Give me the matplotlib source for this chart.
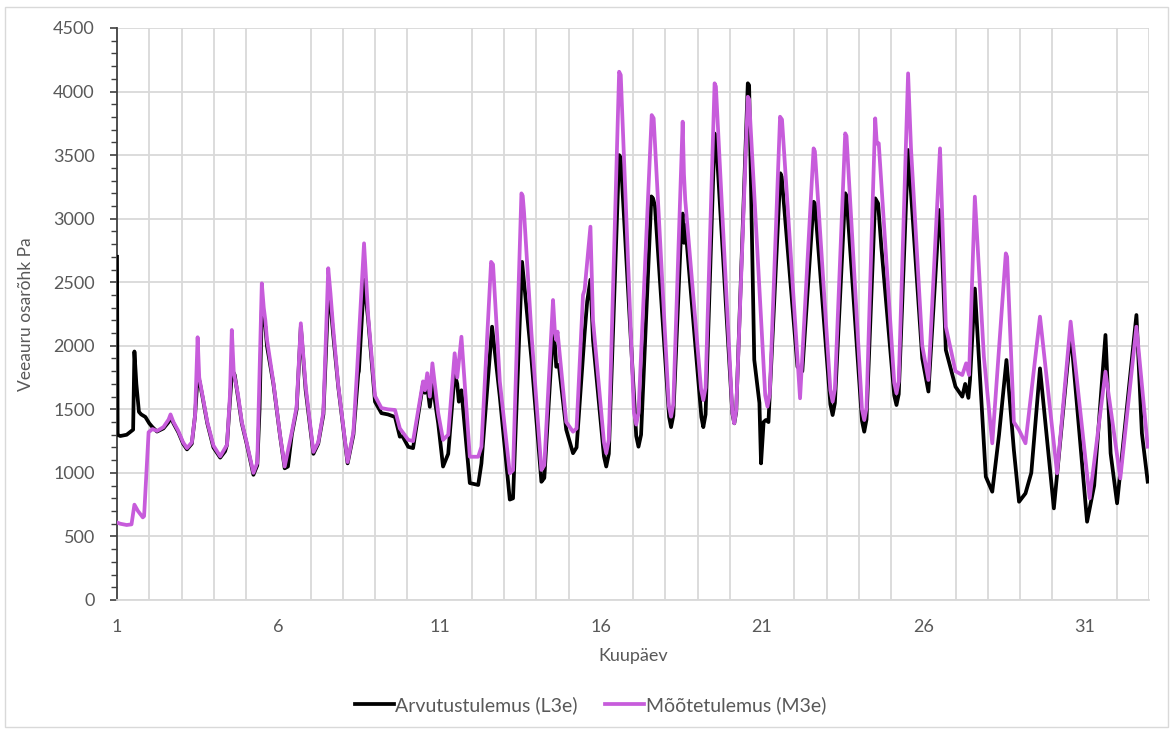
import matplotlib
matplotlib.use("Agg")
import matplotlib.pyplot as plt
from matplotlib.patches import Rectangle
from matplotlib.ticker import MultipleLocator

plt.rcParams['font.family'] = ['Lato', 'DejaVu Sans']

# Computed water-vapour partial pressure (L3e): day of month, Pa
days_l3e = [
    1.00, 1.02, 1.10, 1.30, 1.45, 1.50, 1.54, 1.60, 1.68, 1.75, 1.88, 2.00, 2.10,
    2.24, 2.44, 2.60, 2.66, 2.75, 2.90, 3.05, 3.17, 3.32, 3.42, 3.50, 3.56, 3.65,
    3.80, 3.99, 4.20, 4.35, 4.41, 4.50, 4.57, 4.65, 4.75, 4.87, 5.02, 5.23, 5.35,
    5.42, 5.49, 5.55, 5.60, 5.65, 5.85, 6.06, 6.20, 6.30, 6.42, 6.57, 6.70, 6.85,
    7.09, 7.24, 7.40, 7.55, 7.62, 7.70, 7.86, 8.15, 8.33, 8.48, 8.50, 8.66, 8.79,
    9.00, 9.20, 9.40, 9.62, 9.77, 9.85, 10.03, 10.18, 10.49, 10.55, 10.62, 10.70,
    10.78, 10.96, 11.11, 11.27, 11.47, 11.55, 11.60, 11.68, 11.94, 12.20, 12.30,
    12.63, 12.87, 13.18, 13.28, 13.56, 13.85, 14.16, 14.25, 14.52, 14.58, 14.62,
    14.70, 14.93, 15.14, 15.25, 15.50, 15.58, 15.68, 15.76, 16.10, 16.17, 16.25,
    16.57, 16.62, 16.68, 17.10, 17.17, 17.25, 17.57, 17.62, 17.68, 18.12, 18.18,
    18.25, 18.50, 18.54, 18.58, 18.62, 19.12, 19.18, 19.25, 19.53, 19.57, 20.08,
    20.14, 20.20, 20.56, 20.60, 20.76, 20.92, 20.97, 21.05, 21.12, 21.20,
    21.57, 21.61, 22.10, 22.25, 22.60, 22.64, 23.12, 23.19, 23.26, 23.58, 23.62,
    24.10, 24.17, 24.24, 24.51, 24.60, 24.70, 25.10, 25.17, 25.24, 25.53, 25.65,
    25.97, 26.16, 26.50, 26.54, 26.70, 27.00, 27.21, 27.30, 27.40, 27.45, 27.60,
    27.94, 28.14, 28.35, 28.58, 28.81, 28.97, 29.17, 29.35, 29.62, 30.05, 30.57,
    31.08, 31.30, 31.65, 31.81, 32.01, 32.61, 32.78, 32.96,
]
l3e = [
    2700, 1300, 1290, 1300, 1330, 1340, 1955, 1700, 1480, 1460, 1440, 1390, 1360,
    1325, 1350, 1400, 1440, 1390, 1320, 1230, 1185, 1230, 1450, 1760, 1720, 1600,
    1390, 1200, 1120, 1170, 1220, 1560, 1810, 1770, 1600, 1390, 1230, 985, 1060,
    1500, 2280, 2200, 2150, 2000, 1700, 1285, 1036, 1050, 1300, 1500, 2150, 1650,
    1150, 1230, 1460, 2390, 2330, 2100, 1680, 1075, 1300, 1780, 1800, 2520, 2200,
    1560, 1470, 1460, 1440, 1285, 1290, 1205, 1195, 1700, 1630, 1680, 1520,
    1700, 1390, 1050, 1150, 1780, 1700, 1560, 1650, 920, 905, 1075,
    2150, 1600, 790, 800, 2660, 1900, 930, 960, 2110, 2000, 1835,
    1850, 1340, 1155, 1200, 2100, 2350, 2520, 2045, 1130, 1050, 1150,
    3500, 3480, 3200, 1290, 1206, 1300, 3175, 3160, 3100, 1440, 1360,
    1450, 2950, 3040, 2810, 2950, 1440, 1360, 1460, 3670, 3650, 1470,
    1390, 1480, 4065, 4050, 1890, 1550, 1075, 1400, 1416, 1400,
    3357, 3330, 1835, 1800, 3133, 3120, 1540, 1455, 1550, 3200, 3180,
    1410, 1324, 1420, 3160, 3120, 2780, 1610, 1534, 1620, 3540, 3094,
    1900, 1640, 3068, 3040, 1967, 1678, 1600, 1700, 1590, 1730, 2450,
    970, 852, 1300, 1888, 1180, 773, 839, 1000, 1822, 721, 2111,
    616, 900, 2085, 1154, 761, 2242, 1311, 931,
]

# Measured water-vapour partial pressure (M3e): day of month, Pa
days_m3e = [
    1.00, 1.10, 1.30, 1.45, 1.54, 1.65, 1.80, 1.84, 1.98, 2.10, 2.24, 2.44, 2.60,
    2.66, 2.75, 2.90, 3.05, 3.17, 3.32, 3.42, 3.50, 3.55, 3.65, 3.80, 3.99, 4.20,
    4.41, 4.50, 4.56, 4.62, 4.75, 4.87, 5.02, 5.23, 5.35, 5.49, 5.55, 5.60, 5.65,
    5.85, 6.06, 6.20, 6.42, 6.57, 6.70, 6.85, 7.09, 7.24, 7.40, 7.55, 7.62, 7.70,
    7.86, 8.15, 8.33, 8.45, 8.66, 8.79, 9.00, 9.20, 9.40, 9.62, 9.77, 10.03,
    10.18, 10.49, 10.55, 10.62, 10.70, 10.78, 10.96, 11.11, 11.27, 11.47, 11.55,
    11.68, 11.94, 12.20, 12.30, 12.60, 12.66, 12.87, 13.18, 13.28, 13.54, 13.58,
    13.62, 13.85, 14.16, 14.25, 14.52, 14.58, 14.62, 14.66, 14.93, 15.14, 15.25,
    15.45, 15.50, 15.68, 15.76, 16.10, 16.17, 16.25, 16.57, 16.62, 17.03, 17.10,
    17.17, 17.58, 17.64, 18.11, 18.18, 18.25, 18.54, 18.58, 18.62, 19.11, 19.18,
    19.25, 19.53, 19.57, 20.08, 20.14, 20.20, 20.56, 20.60, 21.10, 21.17, 21.24,
    21.56, 21.62, 22.18, 22.60, 22.64, 23.12, 23.19, 23.26, 23.58, 23.62, 24.10,
    24.17, 24.24, 24.51, 24.56, 24.62, 25.10, 25.17, 25.24, 25.53, 25.62, 25.97,
    26.16, 26.52, 26.70, 27.00, 27.21, 27.33, 27.42, 27.60, 27.88, 28.14, 28.56,
    28.60, 28.81, 28.97, 29.17, 29.62, 30.15, 30.57, 31.16, 31.65, 32.11, 32.61,
    32.96,
]
m3e = [
    610, 600, 590, 595, 750, 700, 650, 660, 1320, 1345, 1330, 1360, 1420,
    1460, 1400, 1330, 1240, 1195, 1240, 1450, 2067, 1750, 1610, 1400, 1215, 1130,
    1220, 1600, 2124, 1790, 1620, 1400, 1240, 1000, 1080, 2491, 2300, 2200, 2050,
    1710, 1290, 1050, 1320, 1520, 2177, 1680, 1165, 1240, 1480, 2610, 2410, 2150,
    1690, 1085, 1320, 1830, 2806, 2230, 1605, 1510, 1500, 1495, 1350, 1260,
    1250, 1720, 1650, 1784, 1600, 1862, 1470, 1260, 1300, 1941, 1750,
    2071, 1127, 1127, 1206, 2660, 2640, 1720, 997, 1020, 3199, 3180,
    3055, 2100, 1023, 1060, 2360, 2100, 2045, 2111, 1400, 1324, 1350,
    2400, 2440, 2937, 2200, 1240, 1154, 1260, 4156, 4130, 1470, 1380,
    1470, 3815, 3790, 1530, 1442, 1540, 3763, 3350, 3147, 1660, 1573,
    1670, 4065, 4040, 1480, 1390, 1490, 3959, 3940, 1610, 1521, 1620,
    3802, 3780, 1587, 3553, 3530, 1650, 1560, 1660, 3671, 3650, 1500,
    1416, 1510, 3789, 3590, 3593, 1710, 1626, 1720, 4143, 3553, 2000,
    1731, 3553, 2150, 1800, 1770, 1862, 1770, 3173, 1914, 1233, 2727,
    2700, 1400, 1337, 1233, 2229, 997, 2190, 800, 1796, 957, 2150,
    1206,
]

x_tick_days = [1, 6, 11, 16, 21, 26, 31]
label_l3e = "Arvutustulemus (L3e)"
label_m3e = "Mõõtetulemus (M3e)"

text_gray = "#595959"
grid_gray = "#d9d9d9"

fig = plt.figure(figsize=(11.74, 7.29), dpi=100)
fig.patches.append(Rectangle((5 / 1174, 2 / 729), 1163 / 1174, 720 / 729,
                             transform=fig.transFigure, fill=False,
                             edgecolor="#d9d9d9", linewidth=1.0))
ax = fig.add_axes([117 / 1174, 1 - 600 / 729, 1032 / 1174, 572 / 729])

ax.plot(days_l3e, l3e, color="black", linewidth=2.7, label=label_l3e,
        solid_joinstyle="round", zorder=3)
ax.plot(days_m3e, m3e, color="#C75CDB", linewidth=2.7, label=label_m3e,
        solid_joinstyle="round", zorder=4)

ax.set_xlim(1, 33)
ax.set_ylim(0, 4500)
ax.set_xticks(x_tick_days)
ax.set_xticks(range(1, 34), minor=True)
ax.yaxis.set_major_locator(MultipleLocator(500))
ax.yaxis.set_minor_locator(MultipleLocator(100))

ax.grid(True, which="major", axis="y", color=grid_gray, linewidth=1.3, zorder=0)
ax.grid(True, which="minor", axis="x", color=grid_gray, linewidth=1.3, zorder=0)
ax.set_axisbelow(True)

for side in ("top", "right"):
    ax.spines[side].set_visible(False)
ax.spines["bottom"].set_color(grid_gray)
ax.spines["bottom"].set_linewidth(1.3)
ax.spines["left"].set_color("#404040")
ax.spines["left"].set_linewidth(1.3)

ax.tick_params(axis="x", which="both", length=0, pad=14, labelsize=13,
               labelcolor=text_gray)
ax.tick_params(axis="y", which="major", length=5, width=1.2, color="#404040",
               pad=11, labelsize=13, labelcolor=text_gray)
ax.tick_params(axis="y", which="minor", length=4, width=1.0, color="#404040")

ax.set_ylabel("Veeauru osarõhk Pa", fontsize=12.5, color=text_gray, labelpad=14)
ax.set_xlabel("Kuupäev", fontsize=13, color=text_gray, labelpad=9)

fig.legend(loc="center", bbox_to_anchor=(0.503, 1 - 705 / 729), ncol=2,
           frameon=False, fontsize=14, labelcolor=text_gray,
           handlelength=2.0, handletextpad=0.1, columnspacing=1.4)

fig.savefig("out.png", dpi=100, facecolor="white")
